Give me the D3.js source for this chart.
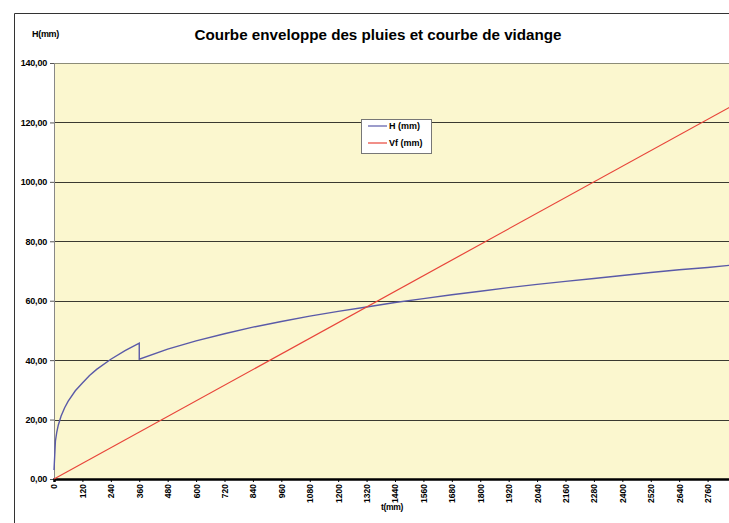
<!DOCTYPE html>
<html><head><meta charset="utf-8">
<script src="https://cdn.jsdelivr.net/npm/d3@7"></script>
<style>html,body{margin:0;padding:0;background:#fff;}svg{display:block;font-family:"Liberation Sans",Arial,sans-serif;}</style>
</head><body>
<svg id="c" width="729" height="523"></svg>
<script>
// Data
const titleText = "Courbe enveloppe des pluies et courbe de vidange";
const seriesNames = ["H (mm)", "Vf (mm)"];
const hTimes = [0, 6, 12, 18, 30, 45, 60, 90, 120, 150, 180, 240, 300, 360, 360, 480, 600, 720, 840, 960, 1080, 1200, 1320, 1440, 1560, 1680, 1800, 1920, 2040, 2160, 2280, 2400, 2520, 2640, 2760, 2880];
const hValues = [3.0, 12.8, 15.9, 18.1, 21.2, 24.0, 26.2, 29.7, 32.3, 34.8, 36.9, 40.3, 43.2, 45.7, 40.3, 43.7, 46.5, 48.9, 51.1, 53.0, 54.8, 56.4, 57.9, 59.4, 60.7, 62.0, 63.2, 64.4, 65.5, 66.5, 67.5, 68.5, 69.5, 70.4, 71.2, 72.1];
const vfTimes = [0, 2880];
const vfValues = [0, 126.3];
const xTicks = [0,120,240,360,480,600,720,840,960,1080,1200,1320,1440,1560,1680,1800,1920,2040,2160,2280,2400,2520,2640,2760];
const yTicks = [0,20,40,60,80,100,120,140];

const svg = d3.select("#c");
const L = 54, T = 63, B = 479, R = 736;
const x = d3.scaleLinear().domain([0, 2880]).range([L, R]);
const y = d3.scaleLinear().domain([0, 140]).range([B, T]);

// outer chart border
svg.append("path").attr("d", "M14.5,523 V13.5 H729").attr("fill", "none").attr("stroke", "#333").attr("stroke-width", 1);

// plot background
svg.append("rect").attr("x", L).attr("y", T).attr("width", R - L).attr("height", B - T).attr("fill", "#FBF7CF");

// gridlines
svg.append("g").selectAll("line").data(yTicks.filter(d => d > 0)).join("line")
  .attr("x1", L).attr("x2", R).attr("y1", d => Math.round(y(d)) + 0.5).attr("y2", d => Math.round(y(d)) + 0.5)
  .attr("stroke", d => d === 140 ? "#8c8c78" : "#3a3a30").attr("stroke-width", 1);

// y axis
const yAxis = d3.axisLeft(y).tickValues(yTicks).tickSize(4).tickPadding(3)
  .tickFormat(d => d3.format(".2f")(d).replace(".", ","));
const gy = svg.append("g").attr("transform", `translate(${L},0)`).call(yAxis);
gy.select(".domain").attr("stroke", "#888");
gy.selectAll(".tick line").attr("stroke", "#555");
gy.selectAll("text").attr("font-size", "9px").attr("font-weight", "bold").attr("fill", "#000").attr("letter-spacing", "-0.2");

// x axis
const xAxis = d3.axisBottom(x).tickValues(xTicks).tickSize(3).tickPadding(2).tickFormat(d3.format("d"));
const gx = svg.append("g").attr("transform", `translate(0,${B})`).call(xAxis);
gx.select(".domain").attr("stroke", "#000").attr("stroke-width", 2.5);
gx.selectAll(".tick line").attr("stroke", "#000");
gx.selectAll("text").attr("font-size", "8.5px").attr("font-weight", "bold").attr("fill", "#000")
  .attr("transform", "rotate(-90)").attr("text-anchor", "end").attr("dy", "0.35em").attr("x", -5).attr("y", 0);

// lines
const line = d3.line().x(d => x(d[0])).y(d => y(d[1]));
svg.append("path").datum(hTimes.map((t, i) => [t, hValues[i]]))
  .attr("d", line).attr("fill", "none").attr("stroke", "#5a5aa8").attr("stroke-width", 1.4);
svg.append("path").datum(vfTimes.map((t, i) => [t, vfValues[i]]))
  .attr("d", line).attr("fill", "none").attr("stroke", "#e8453a").attr("stroke-width", 1.2);

// title & axis titles
svg.append("text").attr("x", 378).attr("y", 40).attr("text-anchor", "middle")
  .attr("font-size", "15.2px").attr("font-weight", "bold").text(titleText);
svg.append("text").attr("x", 32).attr("y", 37).attr("font-size", "9px").attr("font-weight", "bold").attr("letter-spacing", "-0.3").text("H(mm)");
svg.append("text").attr("x", 392).attr("y", 510).attr("text-anchor", "middle").attr("font-size", "8.5px").attr("font-weight", "bold").attr("letter-spacing", "-0.3").text("t(mm)");

// legend
const lg = svg.append("g");
lg.append("rect").attr("x", 361.5).attr("y", 119.5).attr("width", 70).attr("height", 34)
  .attr("fill", "#fff").attr("stroke", "#777");
const lcol = ["#5a5aa8", "#e8453a"];
seriesNames.forEach((n, i) => {
  const yy = 126 + i * 17;
  lg.append("line").attr("x1", 368).attr("x2", 387).attr("y1", yy).attr("y2", yy).attr("stroke", lcol[i]).attr("stroke-width", 1.2);
  lg.append("text").attr("x", 389).attr("y", yy + 3).attr("font-size", "9px").attr("font-weight", "bold").text(n);
});
</script>
</body></html>
